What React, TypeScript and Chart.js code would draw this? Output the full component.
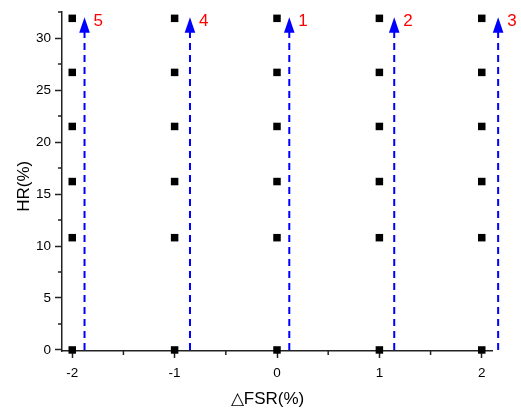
import React, { useEffect, useRef } from "react";
import { Chart, registerables } from "chart.js";

Chart.register(...registerables);

const xValues = [-2, -1, 0, 1, 2];
const hrValues = [0, 10.8, 16.2, 21.5, 26.7, 31.9];
const arrowXs = [-1.88, -0.85, 0.12, 1.145, 2.16];
const arrowLabels = ["5", "4", "1", "2", "3"];
const arrowBottom = 0;
const arrowLineTop = 30.8;
const arrowTip = 32.0;
const xTicks = [-2, -1, 0, 1, 2];
const xMinorTicks = [-1.5, -0.5, 0.5, 1.5];
const yTicks = [0, 5, 10, 15, 20, 25, 30];
const yMinorTicks = [2.5, 7.5, 12.5, 17.5, 22.5, 27.5, 32.5];
const xTitle = "△FSR(%)\u00A0\u00A0\u00A0\u00A0";
const yTitle = "HR(%)\u00A0\u00A0";

const FONT = "'Liberation Sans', Arial, sans-serif";
const AXIS = "#222";

const overlayPlugin = {
  id: "overlay",
  afterDraw(chart: any) {
    const ctx = chart.ctx;
    const xs = chart.scales.x;
    const ys = chart.scales.y;
    const area = chart.chartArea;
    ctx.save();
    ctx.strokeStyle = AXIS;
    ctx.lineWidth = 1.5;
    ctx.beginPath();
    xMinorTicks.forEach((v) => {
      const px = xs.getPixelForValue(v);
      ctx.moveTo(px, area.bottom);
      ctx.lineTo(px, area.bottom + 4);
    });
    yMinorTicks.forEach((v) => {
      const py = ys.getPixelForValue(v);
      ctx.moveTo(area.left, py);
      ctx.lineTo(area.left - 4, py);
    });
    ctx.stroke();
    arrowXs.forEach((v, i) => {
      const px = xs.getPixelForValue(v);
      const tip = ys.getPixelForValue(arrowTip);
      ctx.fillStyle = "#0000FF";
      ctx.beginPath();
      ctx.moveTo(px, tip);
      ctx.lineTo(px - 5.3, tip + 15.5);
      ctx.lineTo(px + 5.3, tip + 15.5);
      ctx.closePath();
      ctx.fill();
      ctx.fillStyle = "#FF0000";
      ctx.font = `17px ${FONT}`;
      ctx.textBaseline = "middle";
      ctx.textAlign = "left";
      ctx.fillText(arrowLabels[i], px + 9, tip + 4);
    });
    ctx.restore();
  },
};

export default function App() {
  const ref = useRef<HTMLCanvasElement | null>(null);
  useEffect(() => {
    if (!ref.current) return;
    const points: { x: number; y: number }[] = [];
    xValues.forEach((x) => hrValues.forEach((y) => points.push({ x, y })));
    const arrowSets = arrowXs.map((x) => ({
      type: "line" as const,
      data: [
        { x, y: arrowBottom },
        { x, y: arrowLineTop },
      ],
      showLine: true,
      borderColor: "#0000FF",
      borderWidth: 2,
      borderDash: [7, 5],
      pointRadius: 0,
      clip: false as any,
      order: 2,
    }));
    const chart = new Chart(ref.current, {
      type: "scatter",
      data: {
        datasets: [
          ...arrowSets,
          {
            type: "scatter",
            data: points,
            pointStyle: "rect",
            pointRadius: 5.3,
            backgroundColor: "#000",
            borderColor: "#000",
            borderWidth: 0,
            clip: false as any,
            order: 1,
          } as any,
        ],
      },
      options: {
        responsive: false,
        animation: false,
        layout: { padding: { left: 0, top: 8, right: 29, bottom: 0 } },
        plugins: { legend: { display: false }, tooltip: { enabled: false } },
        scales: {
          x: {
            type: "linear",
            min: -2.1,
            max: 2.1,
            afterBuildTicks: (s: any) => {
              s.ticks = xTicks.map((v) => ({ value: v }));
            },
            afterFit: (s: any) => {
              s.height = 59;
            },
            ticks: {
              font: { family: FONT, size: 13.5 },
              color: "#000",
              padding: 7,
              maxRotation: 0,
              callback: (v: any) => String(v),
            },
            grid: {
              display: true,
              drawOnChartArea: false,
              drawTicks: true,
              tickLength: 7,
              tickColor: AXIS,
              tickWidth: 1.5,
            },
            border: { display: true, color: AXIS, width: 1.5 },
            title: {
              display: true,
              text: xTitle,
              font: { family: FONT, size: 17 },
              color: "#000",
              padding: { top: 0, bottom: 0 },
            },
          },
          y: {
            type: "linear",
            min: -0.1,
            max: 32.5,
            afterBuildTicks: (s: any) => {
              s.ticks = yTicks.map((v) => ({ value: v }));
            },
            afterFit: (s: any) => {
              s.width = 62;
            },
            ticks: {
              font: { family: FONT, size: 13.5 },
              color: "#000",
              padding: 4,
              callback: (v: any) => String(v),
            },
            grid: {
              display: true,
              drawOnChartArea: false,
              drawTicks: true,
              tickLength: 7,
              tickColor: AXIS,
              tickWidth: 1.5,
            },
            border: { display: true, color: AXIS, width: 1.5 },
            title: {
              display: true,
              text: yTitle,
              font: { family: FONT, size: 17 },
              color: "#000",
              padding: { top: 14, bottom: 0 },
            },
          },
        },
      },
      plugins: [overlayPlugin],
    } as any);
    return () => chart.destroy();
  }, []);
  return (
    <div style={{ position: "fixed", left: 0, top: 0, width: 521, height: 410, background: "#fff" }}>
      <canvas ref={ref} width={521} height={410} style={{ display: "block" }} />
    </div>
  );
}
